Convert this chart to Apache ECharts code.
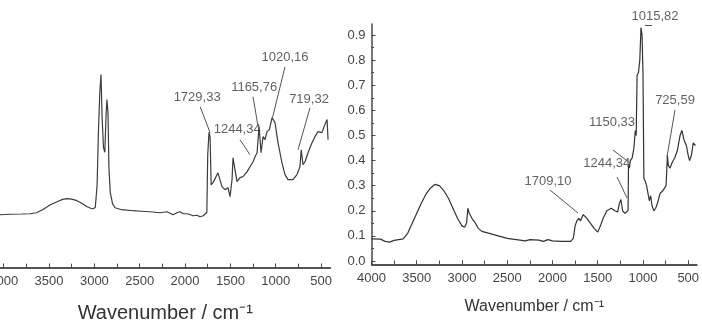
<!DOCTYPE html>
<html>
<head>
<meta charset="utf-8">
<script src="https://cdn.jsdelivr.net/npm/echarts@6/dist/echarts.min.js"></script>
<style>
html, body { margin: 0; padding: 0; background: #fff; }
#chart { width: 702px; height: 328px; }
</style>
</head>
<body>
<div id="chart"></div>
<script>
// left spectrum (cropped panel, no y axis)
var leftWavenumbers = [4041, 3930, 3800, 3710, 3640, 3567, 3490, 3412, 3350, 3302, 3250, 3192, 3130, 3081, 3040, 3015,
    2990, 2970, 2955, 2940, 2927, 2915, 2900, 2885, 2872, 2862, 2850, 2840, 2825, 2800, 2772, 2700, 2573, 2480, 2386,
    2276, 2199, 2132, 2090, 2055, 2020, 1978, 1940, 1912, 1870, 1835, 1800, 1780, 1760, 1750, 1736, 1724, 1712, 1690,
    1670, 1637, 1615, 1593, 1560, 1526, 1504, 1482, 1471, 1449, 1427, 1394, 1361, 1317, 1284, 1250, 1228, 1206, 1184,
    1162, 1140, 1118, 1096, 1070, 1041, 1008, 975, 931, 898, 865, 810, 766, 733, 719, 699, 677, 644, 600, 567, 534,
    490, 467, 434, 423];
var leftAbsorbance = [0.211, 0.213, 0.214, 0.215, 0.219, 0.232, 0.25, 0.263, 0.272, 0.275, 0.273, 0.267, 0.255, 0.243, 0.237, 0.235,
    0.24, 0.33, 0.55, 0.70, 0.77, 0.60, 0.48, 0.46, 0.60, 0.67, 0.62, 0.40, 0.30, 0.255, 0.239, 0.231, 0.227, 0.225, 0.223,
    0.219, 0.223, 0.211, 0.219, 0.223, 0.215, 0.215, 0.211, 0.207, 0.209, 0.203, 0.207, 0.211, 0.22, 0.45, 0.54, 0.52, 0.33, 0.34,
    0.339, 0.378, 0.35, 0.323, 0.311, 0.319, 0.283, 0.351, 0.438, 0.39, 0.343, 0.359, 0.363, 0.382, 0.402, 0.422, 0.442, 0.458, 0.562,
    0.458, 0.522, 0.51, 0.542, 0.55, 0.598, 0.578, 0.498, 0.418, 0.371, 0.351, 0.351, 0.371, 0.402, 0.47, 0.41, 0.422, 0.458, 0.498, 0.522, 0.542,
    0.538, 0.562, 0.59, 0.51];

// right spectrum
var rightWavenumbers = [4000, 3900, 3850, 3800, 3750, 3700, 3650, 3600, 3550, 3500, 3450, 3400, 3350, 3300, 3250, 3200, 3150,
    3100, 3050, 3000, 2970, 2950, 2935, 2920, 2890, 2860, 2820, 2780, 2700, 2600, 2500, 2400, 2300, 2250, 2150, 2100, 2050,
    2000, 1900, 1800, 1770, 1750, 1730, 1709, 1690, 1660, 1620, 1580, 1540, 1500, 1470, 1440, 1400, 1350, 1310, 1280, 1260,
    1244, 1225, 1200, 1180, 1165, 1160, 1150, 1140, 1120, 1100, 1085, 1075, 1065, 1050, 1035, 1022, 1010, 1000, 990, 978,
    960, 945, 930, 915, 900, 880, 860, 840, 810, 780, 745, 730, 720, 700, 680, 650, 620, 590, 570, 545, 520, 500, 485, 465, 445, 420];
var rightAbsorbance = [0.088, 0.087, 0.078, 0.075, 0.082, 0.085, 0.088, 0.11, 0.15, 0.19, 0.23, 0.265, 0.29, 0.305, 0.30, 0.28, 0.25,
    0.21, 0.17, 0.14, 0.135, 0.15, 0.21, 0.19, 0.17, 0.155, 0.13, 0.118, 0.11, 0.1, 0.09, 0.085, 0.08, 0.085, 0.083, 0.078, 0.085,
    0.08, 0.078, 0.078, 0.09, 0.14, 0.16, 0.17, 0.16, 0.185, 0.17, 0.15, 0.13, 0.115, 0.14, 0.17, 0.2, 0.21, 0.2, 0.195, 0.23,
    0.245, 0.2, 0.19, 0.185, 0.2, 0.38, 0.37, 0.40, 0.41, 0.45, 0.52, 0.50, 0.74, 0.75, 0.80, 0.93, 0.90, 0.75, 0.33, 0.32,
    0.30, 0.27, 0.24, 0.26, 0.22, 0.20, 0.21, 0.23, 0.27, 0.28, 0.30, 0.42, 0.38, 0.37, 0.39, 0.41, 0.44, 0.50, 0.52, 0.48, 0.46, 0.42, 0.40, 0.42, 0.47, 0.46];

var xLabelValues = [4000, 3500, 3000, 2500, 2000, 1500, 1000, 500];
var xTickValues = [4000, 3750, 3500, 3250, 3000, 2750, 2500, 2250, 2000, 1750, 1500, 1250, 1000, 750, 500];
var yLabelValues = [0, 0.1, 0.2, 0.3, 0.4, 0.5, 0.6, 0.7, 0.8, 0.9];
var yMinorValues = [0.05, 0.15, 0.25, 0.35, 0.45, 0.55, 0.65, 0.75, 0.85];

// peak labels
var leftPeakNames = ['1729,33', '1244,34', '1165,76', '1020,16', '719,32'];
var rightPeakNames = ['1015,82', '725,59', '1150,33', '1244,34', '1709,10'];

// where the labels sit and where their leader lines go (data coords)
var leftLabelPos = [[1867, 0.677], [1425, 0.55], [1238, 0.717], [898, 0.837], [633, 0.669]];
var leftLeaders = [
    [[1833, 0.641], [1724, 0.538]],
    [[1394, 0.51], [1284, 0.45]],
    [[1250, 0.681], [1195, 0.562]],
    [[898, 0.80], [1041, 0.59]],
    [[622, 0.637], [754, 0.47]]
];
var rightLabelPos = [[867, 0.976], [646, 0.641], [1342, 0.55], [1400, 0.39], [2049, 0.315]];
var rightLeaders = [
    [[978, 0.94], [900, 0.94]],
    [[646, 0.602], [735, 0.414]],
    [[1331, 0.442], [1144, 0.39]],
    [[1287, 0.335], [1177, 0.251]],
    [[2028, 0.283], [1718, 0.191]]
];

function zip(a, b) {
    return a.map(function (v, i) { return [v, b[i]]; });
}
function labelData(pos, names) {
    return pos.map(function (p, i) { return [p[0], p[1], names[i]]; });
}
function leaderData(list) {
    return list.map(function (l) { return [{ coord: l[0] }, { coord: l[1] }]; });
}

var FONT = 'Liberation Sans';
var axisColor = '#4a4a4a';
var textColor = '#3a3a3a';

// bottom axis line + inward ticks, drawn through the axes' own scales
function axisMarks(xMin, xMax, yMin) {
    var marks = [[{ coord: [xMin, yMin], lineStyle: { color: axisColor, width: 1.5 } }, { coord: [xMax, yMin] }]];
    xTickValues.forEach(function (w) {
        var len = xLabelValues.indexOf(w) >= 0 ? 0.016 : 0.01;
        marks.push([{ coord: [w, yMin], lineStyle: { color: axisColor, width: 1 } }, { coord: [w, yMin + len] }]);
    });
    return marks;
}
// small minor ticks on the right panel's y axis
function yMinorMarks(xStart) {
    return yMinorValues.map(function (v) {
        return [{ coord: [xStart, v], lineStyle: { color: axisColor, width: 1 } }, { coord: [xStart - 28, v] }];
    });
}

function wavenumberAxis(grid, min, max, nameSize, nameGap) {
    return {
        gridIndex: grid, type: 'value', inverse: true, min: min, max: max, position: 'bottom',
        axisLine: { show: true, onZero: false, lineStyle: { color: axisColor, width: 1.5 } },
        axisTick: { show: true, inside: true, length: 4, customValues: xTickValues, lineStyle: { color: axisColor } },
        axisLabel: {
            customValues: xLabelValues, margin: 7, fontSize: 13, color: '#444', fontFamily: FONT,
            formatter: function (v) { return String(v); }
        },
        splitLine: { show: false },
        name: 'Wavenumber / cm⁻¹',
        nameLocation: 'middle',
        nameGap: nameGap,
        nameTextStyle: { fontSize: nameSize, color: '#333', fontFamily: FONT }
    };
}

var option = {
    animation: false,
    backgroundColor: '#fff',
    grid: [
        { left: 0, right: 371.5, top: 16.7, bottom: 60.3, containLabel: false, outerBoundsMode: 'none' },
        { left: 371.5, right: 5, top: 24, bottom: 63.5, containLabel: false, outerBoundsMode: 'none' }
    ],
    xAxis: [
        wavenumberAxis(0, 396, 4041, 20, 36),
        wavenumberAxis(1, 403, 4000, 16, 34)
    ],
    yAxis: [
        {
            gridIndex: 0, type: 'value', min: 0, max: 1,
            axisLine: { show: false }, axisTick: { show: false },
            axisLabel: { show: false }, splitLine: { show: false }
        },
        {
            gridIndex: 1, type: 'value', min: -0.014, max: 0.944,
            axisLine: { show: true, onZero: false, lineStyle: { color: axisColor, width: 1.5 } },
            axisTick: { show: true, inside: true, length: 4, customValues: yLabelValues, lineStyle: { color: axisColor } },
            axisLabel: {
                customValues: yLabelValues, margin: 6, fontSize: 13, color: '#444', fontFamily: FONT,
                formatter: function (v) { return v.toFixed(1); }
            },
            splitLine: { show: false }
        }
    ],
    series: [
        {
            type: 'line', xAxisIndex: 0, yAxisIndex: 0,
            data: zip(leftWavenumbers, leftAbsorbance),
            showSymbol: false, silent: true,
            lineStyle: { color: '#3c3c3c', width: 1.2 }
        },
        {
            type: 'line', xAxisIndex: 1, yAxisIndex: 1,
            data: zip(rightWavenumbers, rightAbsorbance),
            showSymbol: false, silent: true,
            lineStyle: { color: '#333', width: 1.2 }
        },
        {
            type: 'scatter', xAxisIndex: 0, yAxisIndex: 0, clip: false, silent: true,
            symbolSize: 1, itemStyle: { color: 'rgba(0,0,0,0)' },
            data: labelData(leftLabelPos, leftPeakNames),
            label: {
                show: true, position: 'inside', fontSize: 13, color: textColor, fontFamily: FONT,
                formatter: function (p) { return p.data[2]; }
            },
            markLine: {
                silent: true, symbol: ['none', 'none'], label: { show: false },
                lineStyle: { color: '#555', width: 1, type: 'solid' },
                data: leaderData(leftLeaders).concat(axisMarks(4041, 396, 0))
            }
        },
        {
            type: 'scatter', xAxisIndex: 1, yAxisIndex: 1, clip: false, silent: true,
            symbolSize: 1, itemStyle: { color: 'rgba(0,0,0,0)' },
            data: labelData(rightLabelPos, rightPeakNames),
            label: {
                show: true, position: 'inside', fontSize: 13, color: textColor, fontFamily: FONT,
                formatter: function (p) { return p.data[2]; }
            },
            markLine: {
                silent: true, symbol: ['none', 'none'], label: { show: false },
                lineStyle: { color: '#555', width: 1, type: 'solid' },
                data: leaderData(rightLeaders).concat(axisMarks(4000, 403, -0.014)).concat(yMinorMarks(4000))
            }
        }
    ]
};

var chart = echarts.init(document.getElementById('chart'));
chart.setOption(option);
</script>
</body>
</html>
